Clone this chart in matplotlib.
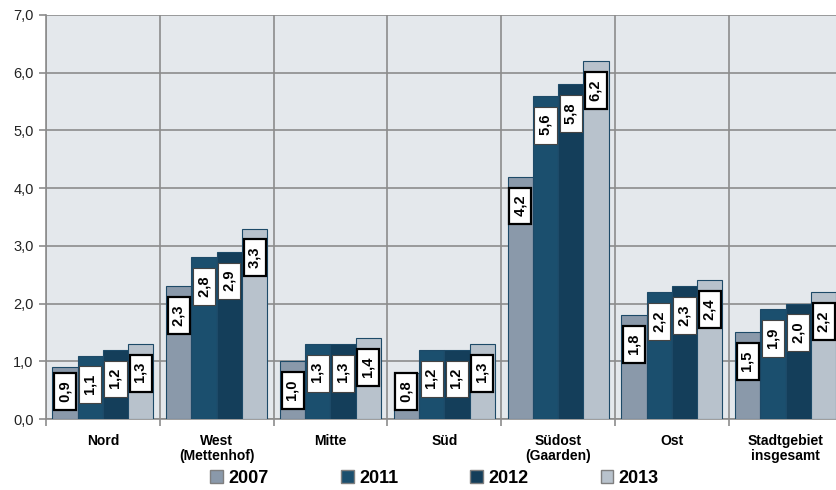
import numpy as np
import matplotlib.pyplot as plt
from matplotlib.patches import Patch

plt.rcParams['font.family'] = ['Liberation Sans', 'DejaVu Sans']

# data
categories = ['Nord', 'West\n(Mettenhof)', 'Mitte', 'Süd', 'Südost\n(Gaarden)', 'Ost',
              'Stadtgebiet\ninsgesamt']
years = ['2007', '2011', '2012', '2013']
v2007 = [0.9, 2.3, 1.0, 0.8, 4.2, 1.8, 1.5]
v2011 = [1.1, 2.8, 1.3, 1.2, 5.6, 2.2, 1.9]
v2012 = [1.2, 2.9, 1.3, 1.2, 5.8, 2.3, 2.0]
v2013 = [1.3, 3.3, 1.4, 1.3, 6.2, 2.4, 2.2]
series = [v2007, v2011, v2012, v2013]

colors = ['#8a99aa', '#1b4f6e', '#143e5a', '#b8c2cc']
box_edge = ['black', '#444444', '#444444', 'black']
box_lw = [1.6, 0.8, 0.8, 1.6]

fig = plt.figure(figsize=(8.36, 4.9), dpi=100)
W, H = 836, 490
# axes run past the right edge of the figure like in the original
ax = fig.add_axes([46 / W, (H - 419) / H, 7 * 113.8 / W, 404 / H])
ax.set_facecolor('#e4e8ec')

x = np.arange(len(categories))
bw = 0.222
for i, vals in enumerate(series):
    pos = x + (i - 1.5) * bw
    ax.bar(pos, vals, width=bw, color=colors[i], edgecolor='#1d4a68',
           linewidth=0.8, zorder=3)
    for px, v in zip(pos, vals):
        label = ' ' + f'{v:.1f}'.replace('.', ',') + ' '
        # label sits just under the bar top, but is pushed up for short bars
        ytop = max(v - 0.26, 0.73)
        ax.text(px, ytop, label, rotation=90, ha='center', va='top',
                fontsize=10.5, fontweight='bold', zorder=4 + i,
                bbox=dict(boxstyle='square,pad=0.28', fc='white',
                          ec=box_edge[i], lw=box_lw[i]))

ax.set_xlim(-0.5, len(categories) - 0.5)
ax.set_ylim(0, 7)
ax.set_yticks(np.arange(0, 8, 1))
ax.set_yticklabels([f'{t:.1f}'.replace('.', ',') for t in np.arange(0, 8, 1)],
                   fontsize=10.5, color='#222222')
ax.set_xticks(x)
ax.set_xticklabels(categories, fontsize=10, fontweight='bold', linespacing=1.05)
ax.set_xticks(np.arange(-0.5, len(categories), 1), minor=True)
ax.tick_params(axis='x', which='major', length=0, pad=11)
ax.tick_params(axis='x', which='minor', length=5, color='#8c8c8c', width=1.2)
ax.tick_params(axis='y', length=5, color='#8c8c8c', width=1.2, pad=4)

ax.grid(axis='y', color='#8c8c8c', linewidth=1.2, zorder=1)
ax.grid(axis='x', which='minor', color='#8c8c8c', linewidth=1.2, zorder=1)
ax.set_axisbelow(True)
for s in ['top', 'right']:
    ax.spines[s].set_visible(False)
ax.spines['left'].set_color('#8c8c8c')
ax.spines['left'].set_linewidth(1.2)
ax.spines['bottom'].set_color('#8c8c8c')
ax.spines['bottom'].set_linewidth(1.2)

handles = [Patch(facecolor=c, edgecolor='#7f7f7f', linewidth=1.0) for c in colors]
fig.legend(handles, years, loc='center', bbox_to_anchor=(0.52, 0.024), ncol=4,
           frameon=False, prop={'weight': 'bold', 'size': 13},
           handlelength=0.7, handleheight=0.7, handletextpad=0.3, columnspacing=4.0)

fig.savefig('out.png', dpi=100)
